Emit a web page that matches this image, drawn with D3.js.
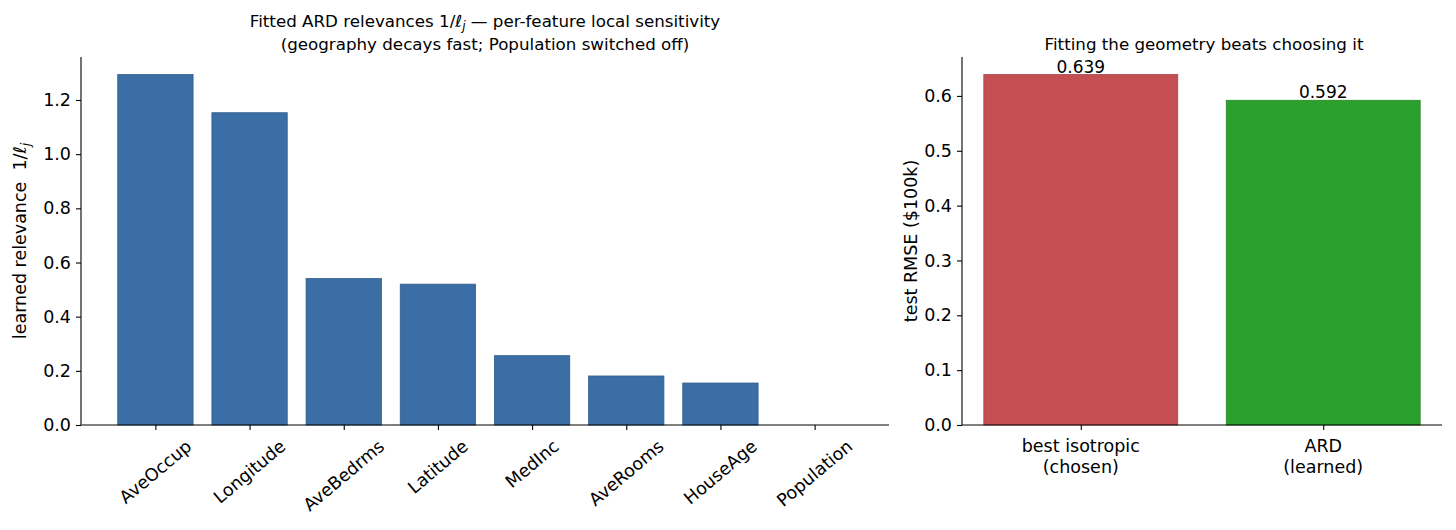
<!DOCTYPE html>
<html>
<head>
<meta charset="utf-8">
<script src="https://cdn.jsdelivr.net/npm/d3@7"></script>
<style>
  body { margin: 0; background: #fff; }
  text { font-family: "DejaVu Sans", sans-serif; fill: #000; }
</style>
</head>
<body>
<svg id="chart" width="1456" height="530"></svg>
<script>
// left panel: fitted ARD relevances
var features = ["AveOccup", "Longitude", "AveBedrms", "Latitude", "MedInc", "AveRooms", "HouseAge", "Population"];
var relevance = [1.294, 1.153, 0.541, 0.520, 0.256, 0.181, 0.155, 0.0];
var relTicks = [0.0, 0.2, 0.4, 0.6, 0.8, 1.0, 1.2];

// right panel: test RMSE
var models = [["best isotropic", "(chosen)"], ["ARD", "(learned)"]];
var rmse = [0.639, 0.592];
var rmseColors = ["#c44e52", "#2ca02c"];
var rmseTicks = [0.0, 0.1, 0.2, 0.3, 0.4, 0.5, 0.6];

var TICK = "17.5px", TITLE = "16.7px";
var svg = d3.select("#chart");

// matplotlib-like bar layout: width 0.8, 5% x margins
function barX(n, left, right) {
  var lo = -0.4, hi = n - 1 + 0.4, m = (hi - lo) * 0.05;
  return d3.scaleLinear().domain([lo - m, hi + m]).range([left, right]);
}

function drawPanel(o) {
  var g = svg.append("g");
  var x = barX(o.values.length, o.left, o.right);
  var y = d3.scaleLinear().domain([0, d3.max(o.values) * 1.05]).range([o.bottom, o.top]);
  var w = x(0.4) - x(-0.4);

  g.selectAll("rect.bar").data(o.values).enter().append("rect")
    .attr("class", "bar")
    .attr("x", function(d, i){ return x(i) - w / 2; })
    .attr("y", function(d){ return y(d); })
    .attr("width", w)
    .attr("height", function(d){ return o.bottom - y(d); })
    .attr("fill", function(d, i){ return o.color(i); })
    .attr("stroke", function(d, i){ return d > 0 ? d3.color(o.color(i)).darker(0.4) : "none"; })
    .attr("stroke-width", 0.8);

  // y axis
  var ya = g.append("g").attr("transform", "translate(" + o.left + ",0)")
    .call(d3.axisLeft(y).tickValues(o.yticks).tickFormat(d3.format(".1f")).tickSize(5).tickPadding(5));
  ya.select(".domain").attr("d", "M0," + o.top + "V" + o.bottom).attr("stroke-width", 1.1);
  ya.selectAll("text").style("font-size", TICK).style("font-family", "DejaVu Sans");
  ya.selectAll(".tick line").attr("stroke-width", 1.1);

  // x axis
  var xa = g.append("g").attr("transform", "translate(0," + o.bottom + ")")
    .call(d3.axisBottom(x).tickValues(d3.range(o.values.length)).tickFormat("").tickSize(5));
  xa.select(".domain").attr("d", "M" + o.left + ",0H" + o.right).attr("stroke-width", 1.1);
  xa.selectAll(".tick line").attr("stroke-width", 1.1);

  return { g: g, x: x, y: y };
}

// ---- left
var L = drawPanel({
  values: relevance, left: 81, right: 889, top: 57, bottom: 425,
  yticks: relTicks, color: function(){ return "#3a6ea5"; }
});
// rotated labels, bounding box centred under each tick (matplotlib ha=center)
var ang = 40 * Math.PI / 180;
L.g.selectAll("text.feat").data(features).enter().append("text")
  .attr("class", "feat")
  .attr("text-anchor", "middle")
  .attr("dominant-baseline", "central")
  .style("font-size", TICK)
  .text(function(d){ return d; })
  .each(function(d, i){
    var len = this.getComputedTextLength(), h = 17.5;
    var H = len * Math.sin(ang) + h * Math.cos(ang);
    d3.select(this).attr("transform", "translate(" + L.x(i) + "," + (437 + H / 2) + ") rotate(-40)");
  });

var t1 = svg.append("text").attr("x", 485).attr("y", 27).attr("text-anchor", "middle").style("font-size", TITLE);
t1.append("tspan").text("Fitted ARD relevances 1/");
t1.append("tspan").style("font-style", "italic").text("ℓ");
t1.append("tspan").style("font-style", "italic").style("font-size", "12px").attr("dy", 3).text("j");
t1.append("tspan").attr("dy", -3).text(" — per-feature local sensitivity");
svg.append("text").attr("x", 485).attr("y", 50).attr("text-anchor", "middle").style("font-size", TITLE)
  .text("(geography decays fast; Population switched off)");

var yl = svg.append("text").attr("transform", "translate(26,241) rotate(-90)").attr("text-anchor", "middle")
  .style("font-size", TICK).style("white-space", "pre");
yl.append("tspan").text("learned relevance  1/");
yl.append("tspan").style("font-style", "italic").text("ℓ");
yl.append("tspan").style("font-style", "italic").style("font-size", "12.5px").attr("dy", 4).text("j");

// ---- right
var R = drawPanel({
  values: rmse, left: 962, right: 1442, top: 57, bottom: 425,
  yticks: rmseTicks, color: function(i){ return rmseColors[i]; }
});
R.g.selectAll("text.val").data(rmse).enter().append("text")
  .attr("class", "val")
  .attr("x", function(d, i){ return R.x(i); })
  .attr("y", function(d){ return R.y(d) - 2; })
  .attr("text-anchor", "middle")
  .style("font-size", "17px")
  .text(function(d){ return d3.format(".3f")(d); });
models.forEach(function(lines, i){
  var t = R.g.append("text").attr("x", R.x(i)).attr("y", 452).attr("text-anchor", "middle").style("font-size", TICK);
  lines.forEach(function(s, k){
    t.append("tspan").attr("x", R.x(i)).attr("dy", k ? 21 : 0).text(s);
  });
});
svg.append("text").attr("x", 1204).attr("y", 50).attr("text-anchor", "middle").style("font-size", TITLE)
  .text("Fitting the geometry beats choosing it");
svg.append("text").attr("transform", "translate(917,241) rotate(-90)").attr("text-anchor", "middle").style("font-size", TICK)
  .text("test RMSE ($100k)");
</script>
</body>
</html>
